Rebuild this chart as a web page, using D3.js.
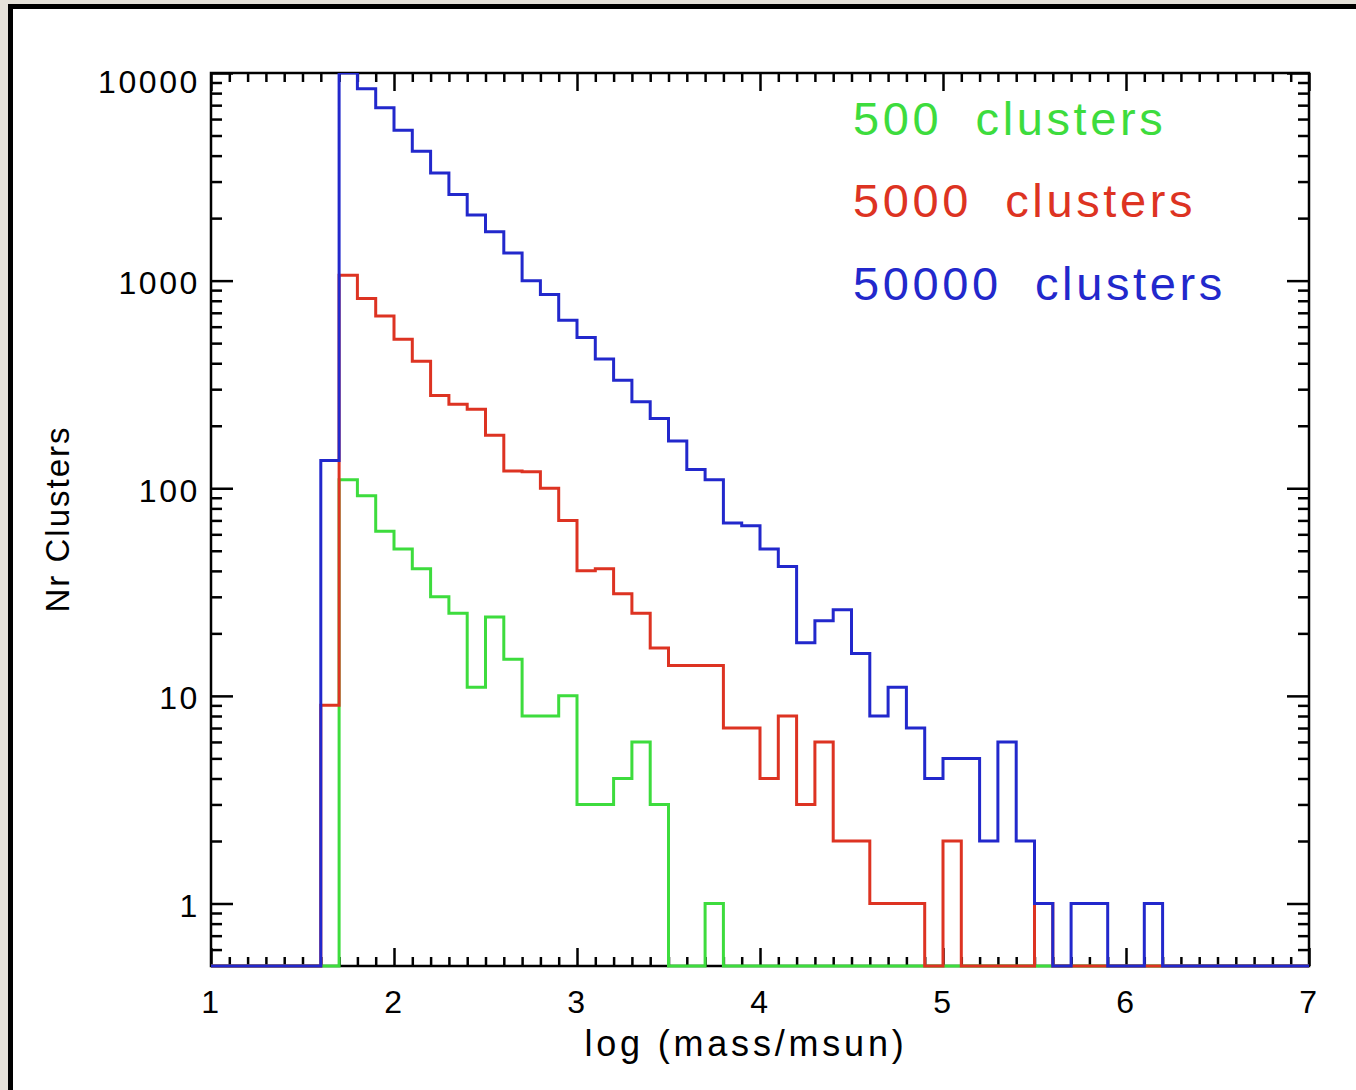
<!DOCTYPE html>
<html>
<head>
<meta charset="utf-8">
<script src="https://cdn.jsdelivr.net/npm/d3@7"></script>
<style>
    body { margin: 0; background: #e5e1d9; }
    text { font-family: "Liberation Sans", Arial, sans-serif; }
</style>
</head>
<body>
<script>
// lower edges of the 0.1 dex bins, 1.0 .. 6.9
var binStarts = [1.0, 1.1, 1.2, 1.3, 1.4, 1.5, 1.6, 1.7, 1.8, 1.9,
                 2.0, 2.1, 2.2, 2.3, 2.4, 2.5, 2.6, 2.7, 2.8, 2.9,
                 3.0, 3.1, 3.2, 3.3, 3.4, 3.5, 3.6, 3.7, 3.8, 3.9,
                 4.0, 4.1, 4.2, 4.3, 4.4, 4.5, 4.6, 4.7, 4.8, 4.9,
                 5.0, 5.1, 5.2, 5.3, 5.4, 5.5, 5.6, 5.7, 5.8, 5.9,
                 6.0, 6.1, 6.2, 6.3, 6.4, 6.5, 6.6, 6.7, 6.8, 6.9];
var binWidth = 0.1;

var counts500 = [0, 0, 0, 0, 0, 0, 0, 110, 92, 62,
                 51, 41, 30, 25, 11, 24, 15, 8, 8, 10,
                 3, 3, 4, 6, 3, 0, 0, 1, 0, 0,
                 0, 0, 0, 0, 0, 0, 0, 0, 0, 0,
                 0, 0, 0, 0, 0, 0, 0, 0, 0, 0,
                 0, 0, 0, 0, 0, 0, 0, 0, 0, 0];

var counts5000 = [0, 0, 0, 0, 0, 0, 9, 1060, 820, 676,
                  522, 409, 280, 254, 240, 180, 121, 120, 100, 70,
                  40, 41, 31, 25, 17, 14, 14, 14, 7, 7,
                  4, 8, 3, 6, 2, 2, 1, 1, 1, 0,
                  2, 0, 0, 0, 0, 1, 0, 0, 0, 0,
                  0, 0, 0, 0, 0, 0, 0, 0, 0, 0];

var counts50000 = [0, 0, 0, 0, 0, 0, 136, 12000, 8400, 6800,
                   5300, 4200, 3300, 2600, 2070, 1720, 1360, 1000, 857, 645,
                   532, 419, 331, 261, 217, 169, 123, 110, 68, 66,
                   51, 42, 18, 23, 26, 16, 8, 11, 7, 4,
                   5, 5, 2, 6, 2, 1, 0, 1, 1, 0,
                   0, 1, 0, 0, 0, 0, 0, 0, 0, 0];

var seriesNames = ["500  clusters", "5000  clusters", "50000  clusters"];
var seriesColors = ["#3ddc3d", "#dd3322", "#2228cc"];

var xMajor = [1, 2, 3, 4, 5, 6, 7];
var yMajor = [1, 10, 100, 1000, 10000];
var yMajorLabels = ["1", "10", "100", "1000", "10000"];

var width = 1356;
var height = 1090;
var plotLeft = 211, plotRight = 1309, plotTop = 73, plotBottom = 966;

var svg = d3.select("body")
    .append("svg")
    .attr("width", width)
    .attr("height", height);

// white panel with black frame
svg.append("rect")
    .attr("x", 10.5)
    .attr("y", 6.5)
    .attr("width", width)
    .attr("height", height)
    .attr("fill", "white")
    .attr("stroke", "black")
    .attr("stroke-width", 5);

var xScale = d3.scaleLinear()
    .domain([1, 7])
    .range([plotLeft, plotRight]);

var yScale = d3.scaleLog()
    .domain([0.5, 10000])
    .range([plotBottom, plotTop])
    .clamp(true);

var yPos = (v) => v <= 0 ? yScale(0.5) : yScale(v);

// minor tick values
var xMinor = d3.range(10, 70).filter((v) => v % 10 != 0).map((v) => v / 10);
var yMinor = [];
[0.1, 1, 10, 100, 1000].forEach((dec) => {
    for (let m = 2; m <= 9; m++) {
        let v = m * dec;
        if (v > 0.5 && v < 10000) yMinor.push(v);
    }
});

function styleAxis(g) {
    g.select(".domain").remove();
    g.selectAll(".tick line").attr("stroke", "black").attr("stroke-width", 2.5);
    g.selectAll("text")
        .attr("fill", "black")
        .style("font-size", "32px")
        .style("letter-spacing", "2.6px")
        .style("font-family", "'Liberation Sans', Arial, sans-serif");
}

// bottom axis
svg.append("g")
    .attr("transform", "translate(0," + plotBottom + ")")
    .call(d3.axisBottom(xScale).tickValues(xMajor).tickSize(-18).tickPadding(24).tickFormat(d3.format("d")))
    .call(styleAxis);
svg.append("g")
    .attr("transform", "translate(0," + plotBottom + ")")
    .call(d3.axisBottom(xScale).tickValues(xMinor).tickSize(-9).tickFormat(""))
    .call(styleAxis);
// top axis
svg.append("g")
    .attr("transform", "translate(0," + plotTop + ")")
    .call(d3.axisTop(xScale).tickValues(xMajor).tickSize(-18).tickFormat(""))
    .call(styleAxis);
svg.append("g")
    .attr("transform", "translate(0," + plotTop + ")")
    .call(d3.axisTop(xScale).tickValues(xMinor).tickSize(-9).tickFormat(""))
    .call(styleAxis);
// left axis
svg.append("g")
    .attr("transform", "translate(" + plotLeft + ",0)")
    .call(d3.axisLeft(yScale).tickValues(yMajor).tickSize(-22).tickPadding(11)
        .tickFormat((d, i) => yMajorLabels[i]))
    .call(styleAxis)
    .call((g) => g.selectAll("text").attr("dy", (d) => d == 10000 ? "0.6em" : "0.4em"));
svg.append("g")
    .attr("transform", "translate(" + plotLeft + ",0)")
    .call(d3.axisLeft(yScale).tickValues(yMinor).tickSize(-11).tickFormat(""))
    .call(styleAxis);
// right axis
svg.append("g")
    .attr("transform", "translate(" + plotRight + ",0)")
    .call(d3.axisRight(yScale).tickValues(yMajor).tickSize(-22).tickFormat(""))
    .call(styleAxis);
svg.append("g")
    .attr("transform", "translate(" + plotRight + ",0)")
    .call(d3.axisRight(yScale).tickValues(yMinor).tickSize(-11).tickFormat(""))
    .call(styleAxis);

// plot box
svg.append("rect")
    .attr("x", plotLeft)
    .attr("y", plotTop)
    .attr("width", plotRight - plotLeft)
    .attr("height", plotBottom - plotTop)
    .attr("fill", "none")
    .attr("stroke", "black")
    .attr("stroke-width", 2.5);

svg.append("clipPath")
    .attr("id", "plotclip")
    .append("rect")
    .attr("x", plotLeft - 2)
    .attr("y", plotTop)
    .attr("width", plotRight - plotLeft + 4)
    .attr("height", plotBottom - plotTop + 2);

// histogram lines: green, red, blue (blue on top)
var allCounts = [counts500, counts5000, counts50000];

var line = d3.line()
    .x((d) => xScale(d.x))
    .y((d) => yPos(d.y))
    .curve(d3.curveStepAfter);

allCounts.forEach((counts, k) => {
    let pts = binStarts.map((b, i) => ({x: b, y: counts[i]}));
    pts.push({x: binStarts[binStarts.length - 1] + binWidth, y: counts[counts.length - 1]});
    svg.append("path")
        .datum(pts)
        .attr("d", line)
        .attr("fill", "none")
        .attr("stroke", seriesColors[k])
        .attr("stroke-width", 3)
        .attr("clip-path", "url(#plotclip)");
});

// axis titles
svg.append("text")
    .attr("x", 746)
    .attr("y", 1056)
    .attr("text-anchor", "middle")
    .style("font-size", "36px")
    .style("letter-spacing", "3.8px")
    .text("log (mass/msun)");

svg.append("text")
    .attr("transform", "translate(69,519) rotate(-90)")
    .attr("text-anchor", "middle")
    .style("font-size", "33px")
    .style("letter-spacing", "2px")
    .text("Nr Clusters");

// legend text
var legendY = [135, 217, 300];
seriesNames.forEach((name, k) => {
    svg.append("text")
        .attr("x", 853)
        .attr("y", legendY[k])
        .attr("fill", seriesColors[k])
        .style("font-size", "47px")
        .style("letter-spacing", "3.6px")
        .style("white-space", "pre")
        .text(name);
});
</script>
</body>
</html>
